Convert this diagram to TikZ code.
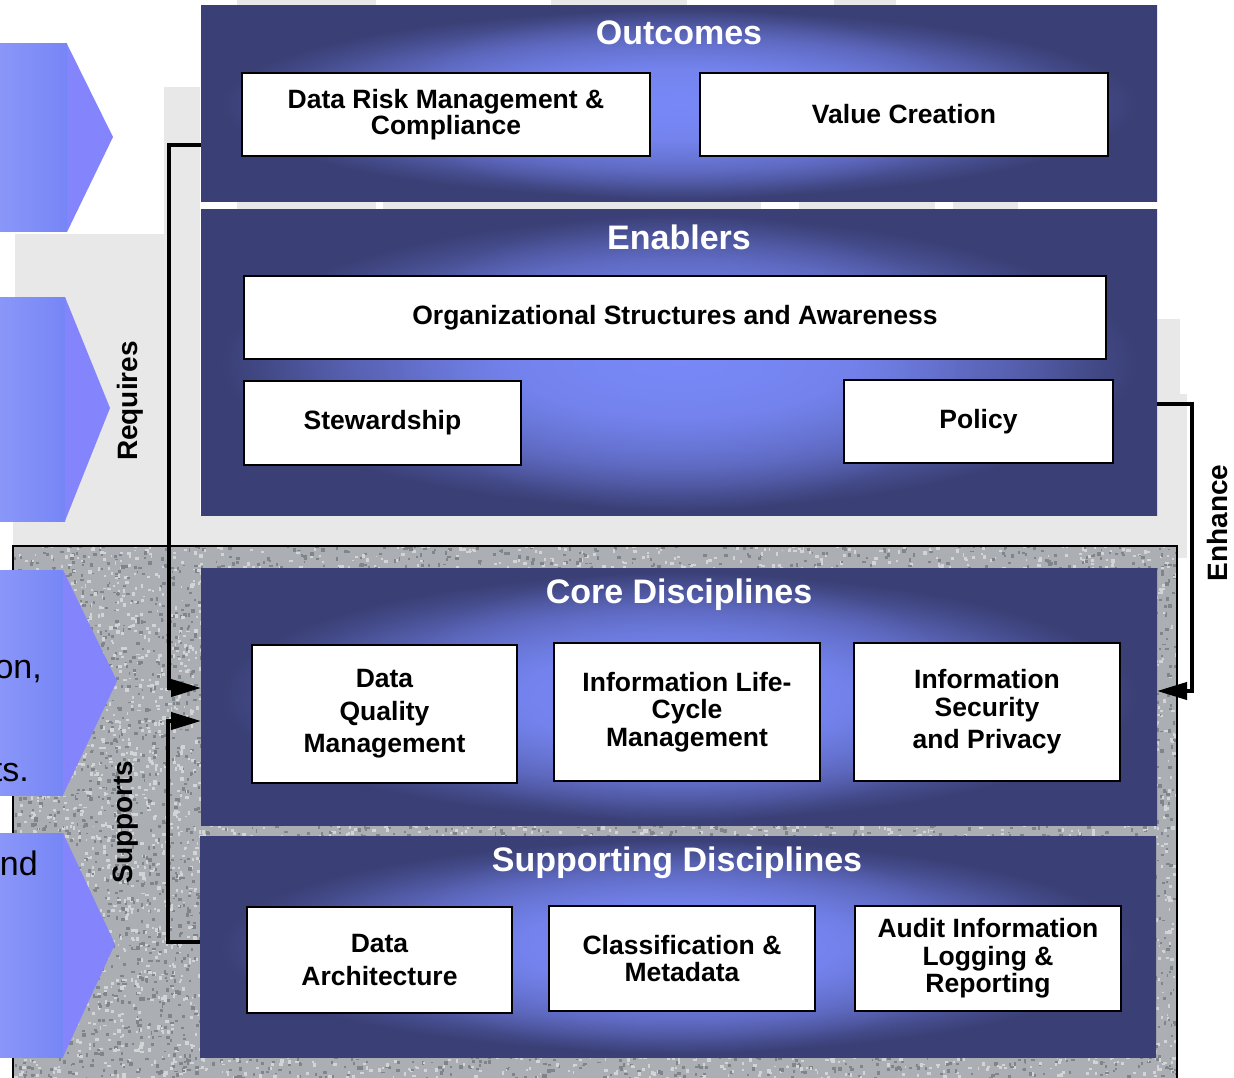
\documentclass[tikz,border=0pt]{standalone}
\usepackage{fontspec}
\setmainfont{Liberation Sans}
\usetikzlibrary{arrows.meta,calc,fadings}
\definecolor{navy}{HTML}{3A3F75}
\definecolor{glow}{HTML}{7888F6}
\definecolor{lgray}{HTML}{E8E8E8}
\definecolor{texbase}{HTML}{ABAFB3}
\definecolor{texdark}{HTML}{80858A}
\definecolor{texlight}{HTML}{D2D4D6}
\definecolor{chevL}{HTML}{8A96F8}
\definecolor{chevR}{HTML}{7686F6}
\definecolor{chevT}{HTML}{8484FD}
\pgfdeclareradialshading{panelglow}{\pgfpoint{0bp}{0bp}}{color(0bp)=(glow); color(9bp)=(glow!88!navy); color(17bp)=(glow!48!navy); color(22bp)=(glow!12!navy); color(24bp)=(navy); color(50bp)=(navy)}
\tikzfading[name=glowfade, inner color=transparent!0, outer color=transparent!100]
\newcommand\mySpeckle[5]{%
  \foreach \i in {1,...,#5}{%
    \fill[texdark] ({#1+#3*rnd},{#2+#4*rnd}) rectangle ++({1.5+2.5*rnd},{1.5+2.5*rnd});
    \fill[texlight] ({#1+#3*rnd},{#2+#4*rnd}) rectangle ++({1.5+2.5*rnd},{1.5+2.5*rnd});
  }}
\newcommand\myPanelGlow[2]{%
  \shade[shading=panelglow] (#1.south west) rectangle (#1.north east);
  \fill[glow, fill opacity=0.7, path fading=glowfade] (#1.center) ellipse (290 and {0.5*#2});
}
\begin{document}
\begin{tikzpicture}[x=1pt,y=-1pt,
  panel/.style={fill=navy, inner sep=0, outer sep=0},
  box/.style={draw=black, line width=2.5pt, fill=white, align=center, inner sep=0,
    font=\bfseries\fontsize{26.5}{26.5}\selectfont},
  ptitle/.style={text=white, font=\bfseries\fontsize{34}{34}\selectfont, inner sep=0},
  conn/.style={line width=4pt, line join=miter},
  tip/.style={-{Triangle[length=30pt,width=17pt]}},
  vlabel/.style={rotate=90, font=\bfseries\fontsize{28}{28}\selectfont, inner sep=0},
  chevtext/.style={font=\fontsize{34}{34}\selectfont, anchor=base east, inner sep=0}
]
\useasboundingbox (0,0) rectangle (1234,1078);
\clip (0,0) rectangle (1234,1078);
\fill[white] (0,0) rectangle (1234,1078);

% light gray background patches
\fill[lgray] (164,87) rectangle (200,546);
\fill[lgray] (15,234) rectangle (200,546);
\fill[lgray] (13,515) rectangle (1187,546);
\fill[lgray] (1157,319) rectangle (1180,546);
\fill[lgray] (1157,394) rectangle (1187,558);
\fill[lgray] (237,0) rectangle (376,6);
\fill[lgray] (551,0) rectangle (687,6);
\fill[lgray] (834,0) rectangle (896,6);
\fill[lgray] (237,202) rectangle (376,210);
\fill[lgray] (383,202) rectangle (761,210);
\fill[lgray] (799,202) rectangle (935,210);
\fill[lgray] (953,202) rectangle (1018,210);

% textured region
\begin{scope}
  \clip (13,546) rectangle (1177,1078);
  \fill[texbase] (13,546) rectangle (1177,1078);
  \pgfmathsetseed{12}
  \mySpeckle{11}{544}{192}{536}{1300}
  \mySpeckle{198}{544}{980}{26}{260}
  \mySpeckle{198}{821}{980}{17}{170}
  \mySpeckle{198}{1053}{980}{27}{260}
  \mySpeckle{1153}{564}{26}{514}{130}
\end{scope}
\draw[line width=1.5pt] (13,1078) -- (13,546) -- (1177,546) -- (1177,1078);

% chevrons
\shade[left color=chevL, right color=chevR] (0,44) rectangle (67,232);
\fill[chevT] (67,44) -- (113,137) -- (67,232) -- cycle;
\shade[left color=chevL, right color=chevR] (0,297) rectangle (65,521);
\fill[chevT] (65,297) -- (110,408) -- (65,521) -- cycle;
\shade[left color=chevL, right color=chevR] (0,570) rectangle (63,795);
\fill[chevT] (63,570) -- (117,681) -- (63,795) -- cycle;
\shade[left color=chevL, right color=chevR] (0,833) rectangle (63,1057);
\fill[chevT] (63,833) -- (115,944) -- (63,1057) -- cycle;
\node[chevtext] (t1) at (42,678) {on,};
\node[chevtext] (t2) at (29,781) {ts.};
\node[chevtext] (t3) at (38,875) {nd};

% panels
\node[panel, minimum width=956pt, minimum height=196pt] (outcomes) at (679,104) {};
\node[panel, minimum width=956pt, minimum height=305pt] (enablers) at (679,362.5) {};
\node[panel, minimum width=956pt, minimum height=257pt] (core) at (679,696.5) {};
\node[panel, minimum width=956pt, minimum height=221pt] (supp) at (678,946.5) {};
\myPanelGlow{outcomes}{196}
\myPanelGlow{enablers}{305}
\myPanelGlow{core}{257}
\myPanelGlow{supp}{221}

% titles
\node[ptitle] (tout) at (679,33) {Outcomes};
\node[ptitle] (tena) at (679,237) {Enablers};
\node[ptitle] (tcore) at (679,595) {Core Disciplines};
\node[ptitle] (tsupp) at (677,863) {Supporting Disciplines};

% boxes
\node[box, minimum width=408pt, minimum height=83pt] (drm) at (446,114.5) {Data Risk Management \&\\Compliance};
\node[box, minimum width=408pt, minimum height=83pt] (val) at (904,114.5) {Value Creation};
\node[box, minimum width=862pt, minimum height=83pt] (org) at (675,317.5) {Organizational Structures and Awareness};
\node[box, minimum width=277pt, minimum height=84pt] (stew) at (382.5,423) {Stewardship};
\node[box, minimum width=269pt, minimum height=83pt] (pol) at (978.5,421.5) {Policy};
\node[box, minimum width=265pt, minimum height=138pt] (dqm) at (384.5,714) {Data\\[6pt]Quality\\[6pt]Management};
\node[box, minimum width=266pt, minimum height=138pt] (ilc) at (687,712) {Information Life-\\[1pt]Cycle\\[1pt]Management};
\node[box, minimum width=266pt, minimum height=138pt] (isp) at (987,712) {Information\\[1pt]Security\\[6pt]and Privacy};
\node[box, minimum width=265pt, minimum height=106pt] (darch) at (379.5,960) {Data\\[6pt]Architecture};
\node[box, minimum width=266pt, minimum height=105pt] (cls) at (682,958.5) {Classification \&\\Metadata};
\node[box, minimum width=266pt, minimum height=105pt] (aud) at (988,958.5) {Audit Information\\[1pt]Logging \&\\[1pt]Reporting};

% connectors
\draw[conn, tip] ([yshift=-41pt]outcomes.west) -- ++(-32,0) |- ([yshift=8.5pt]core.west);
\draw[conn, tip] ([yshift=4.5pt]supp.west) -- ++(-32,0) |- ([yshift=-24.5pt]core.west);
\draw[conn, tip] ([yshift=-41.5pt]enablers.east) -- ++(35,0) |- ([yshift=5.5pt]core.east);

% connector labels
\node[vlabel] (lreq) at (130,401) {Requires};
\node[vlabel] (lsup) at (126,822) {Supports};
\node[vlabel] (lenh) at (1217,523) {Enhance};
\end{tikzpicture}
\end{document}
